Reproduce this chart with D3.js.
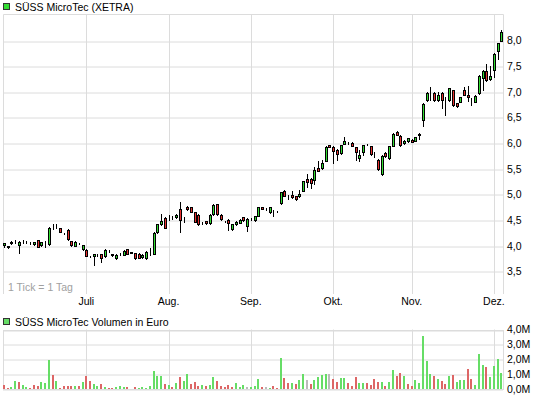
<!DOCTYPE html>
<html>
<head>
<meta charset="utf-8">
<script src="https://cdn.jsdelivr.net/npm/d3@7"></script>
<style>
body { margin: 0; background: #fff; }
text { font-family: "Liberation Sans", Arial, sans-serif; font-size: 10.5px; fill: #000; }
</style>
</head>
<body>
<svg width="545" height="398"></svg>
<script>
// daily candles, 1 Tick = 1 Tag (Juni - Anfang Dez.)
var open = [
  4.01,3.98,4.06,4.08,4.01,4.08,4.07,4.05,4.03,4.11,
  4.01,4.07,4.03,4.35,4.36,4.34,4.24,4.31,4.09,4.00,
  4.05,3.93,3.92,3.79,3.79,3.82,3.83,3.79,3.90,3.82,
  3.75,3.83,3.82,3.93,3.87,3.85,3.84,3.77,3.75,3.90,
  3.84,4.26,4.42,4.53,4.55,4.55,4.55,4.71,4.51,4.75,
  4.75,4.65,4.60,4.45,4.48,4.44,4.61,4.81,4.60,4.48,
  4.50,4.32,4.42,4.45,4.55,4.38,4.51,4.50,4.58,4.75,
  4.72,4.65,4.68,4.66,4.83,5.07,4.96,4.99,4.96,4.96,
  5.07,5.30,5.30,5.28,5.51,5.51,5.66,5.96,5.93,5.87,
  5.80,5.99,6.00,6.01,5.92,5.70,5.83,5.98,5.94,5.81,
  5.67,5.39,5.81,5.70,5.95,6.22,6.14,6.00,6.04,6.06,
  6.05,6.16,6.45,6.84,7.00,6.98,6.84,6.98,6.87,6.84,
  7.03,6.78,6.81,7.03,6.94,6.86,6.81,6.97,7.26,7.41,
  7.24,7.42,7.80,8.00];
var high = [
  4.06,4.00,4.10,4.12,4.10,4.12,4.09,4.07,4.08,4.12,
  4.08,4.09,4.36,4.42,4.42,4.35,4.25,4.32,4.10,4.09,
  4.06,4.02,3.93,3.80,3.84,3.83,3.84,3.93,3.92,3.84,
  3.83,3.85,3.91,3.94,3.88,3.86,3.85,3.83,3.89,3.95,
  4.26,4.43,4.61,4.55,4.59,4.58,4.61,4.85,4.55,4.77,
  4.76,4.66,4.61,4.47,4.49,4.61,4.81,4.82,4.61,4.49,
  4.51,4.43,4.48,4.51,4.56,4.53,4.53,4.58,4.76,4.76,
  4.74,4.76,4.70,4.67,5.05,5.08,4.99,5.07,4.97,5.09,
  5.27,5.40,5.31,5.54,5.66,5.67,5.94,5.97,5.94,5.88,
  5.97,6.12,6.02,6.02,5.93,5.87,5.97,5.99,5.95,5.82,
  5.68,5.76,5.82,5.95,6.20,6.24,6.15,6.06,6.10,6.07,
  6.12,6.19,6.78,6.99,7.10,6.99,7.00,6.99,6.89,7.08,
  7.04,6.79,6.90,7.10,7.12,6.87,6.93,7.32,7.42,7.55,
  7.50,7.75,7.96,8.20];
var low = [
  3.98,3.96,4.03,4.05,3.85,4.06,4.05,4.04,4.02,3.97,
  4.00,3.97,4.02,4.33,4.35,4.26,4.23,4.12,4.00,3.99,
  4.03,3.91,3.79,3.78,3.62,3.80,3.69,3.78,3.87,3.80,
  3.74,3.81,3.81,3.83,3.85,3.74,3.76,3.76,3.74,3.82,
  3.83,4.25,4.41,4.34,4.50,4.52,4.54,4.27,4.46,4.70,
  4.65,4.46,4.41,4.43,4.43,4.43,4.60,4.60,4.50,4.47,
  4.31,4.31,4.41,4.44,4.49,4.29,4.50,4.49,4.57,4.71,
  4.70,4.64,4.58,4.65,4.82,4.96,4.91,4.93,4.89,4.95,
  5.06,5.15,5.12,5.21,5.45,5.50,5.65,5.92,5.61,5.67,
  5.79,5.98,5.99,5.94,5.67,5.66,5.77,5.97,5.77,5.73,
  5.48,5.38,5.73,5.69,5.94,6.15,5.95,5.99,6.03,6.02,
  6.04,6.08,6.33,6.83,6.84,6.83,6.83,6.68,6.55,6.83,
  6.73,6.71,6.80,6.93,6.83,6.74,6.80,6.96,7.04,7.22,
  7.23,7.29,7.63,7.99];
var close = [
  4.05,3.99,4.07,4.08,4.08,4.08,4.07,4.05,4.07,3.98,
  4.07,4.08,4.35,4.35,4.37,4.27,4.24,4.13,4.01,4.08,
  4.05,4.01,3.79,3.79,3.83,3.82,3.75,3.92,3.90,3.83,
  3.82,3.83,3.90,3.84,3.86,3.75,3.76,3.82,3.88,3.90,
  4.25,4.42,4.48,4.35,4.55,4.55,4.60,4.50,4.51,4.71,
  4.66,4.47,4.42,4.45,4.44,4.60,4.80,4.61,4.51,4.48,
  4.45,4.42,4.47,4.50,4.50,4.52,4.51,4.57,4.75,4.72,
  4.72,4.75,4.68,4.66,5.04,4.97,4.96,4.94,4.90,5.01,
  5.26,5.24,5.23,5.48,5.46,5.62,5.93,5.93,5.85,5.78,
  5.96,6.04,6.01,5.95,5.83,5.77,5.96,5.98,5.78,5.81,
  5.49,5.75,5.74,5.94,6.18,6.16,5.96,6.05,6.09,6.03,
  6.11,6.17,6.77,6.98,7.00,6.84,6.94,6.84,6.87,7.07,
  6.74,6.72,6.89,6.94,6.89,6.86,6.92,7.31,7.41,7.23,
  7.31,7.74,7.95,8.17];

// Volumen in Mio. Euro, direction: 1 up, -1 down, 0 unchanged
var volume = [
  .27,.09,.16,.54,.47,.27,.16,.09,.27,.20,
  .47,.40,1.95,.94,.54,.09,.20,.20,.20,.20,
  .20,.47,.88,.54,.34,.20,.34,.13,.07,.07,
  .13,.20,.13,.13,0,.13,.07,.13,.07,.20,
  1.21,.88,.88,.34,.27,.13,.40,.81,.54,1.01,
  .34,.47,.20,.27,.20,.27,.81,.54,.20,.13,
  .27,.13,.40,.13,.27,.13,.13,.20,.67,.13,
  .13,.07,.20,.07,2.09,.74,.40,.40,.34,.61,
  1.01,.61,.34,.61,.81,.94,1.01,1.01,.66,.46,
  .72,.72,.43,.18,.80,.40,.40,.40,.30,.65,
  .50,.48,.18,.48,1.27,.87,1.07,.87,.33,.20,
  .62,.40,3.56,1.87,1.00,.87,.70,.55,.35,.87,
  .95,.50,.62,.62,1.35,.70,.28,2.36,1.62,1.50,
  .80,1.56,2.02,1.07];
var volDir = [
  -1,-1,1,1,-1,1,1,-1,-1,-1,
  1,1,1,-1,1,-1,-1,-1,-1,1,
  -1,1,-1,-1,1,1,-1,1,-1,-1,
  1,1,1,-1,-1,-1,1,1,1,1,
  1,1,1,-1,1,-1,1,-1,1,1,
  -1,-1,-1,1,-1,1,1,-1,-1,-1,
  -1,-1,1,1,1,0,1,1,1,-1,
  0,1,-1,-1,1,-1,-1,1,-1,1,
  1,0,-1,1,1,1,1,0,-1,-1,
  1,1,-1,-1,-1,1,1,-1,-1,-1,
  -1,1,-1,1,1,-1,-1,1,-1,-1,
  1,1,1,1,1,-1,1,-1,-1,1,
  -1,1,1,1,-1,-1,1,1,1,-1,
  1,1,1,1];

var monthIdx = [22, 44, 66, 88, 109, 131];
var monthLabels = ["Juli", "Aug.", "Sep.", "Okt.", "Nov.", "Dez."];
var priceTicks = [3.5, 4.0, 4.5, 5.0, 5.5, 6.0, 6.5, 7.0, 7.5, 8.0];
var volTicks = [0, 1, 2, 3, 4];

var svg = d3.select("svg");
var left = 3, right = 503;
var pTop = 14, pBottom = 294;
var vTop = 329.5, vBottom = 389;
var grid = "#dcdcdc";

var x = d3.scaleLinear().domain([0, open.length - 1]).range([4, 501.4]);
var y = d3.scaleLinear().domain([3.5, 8]).range([271.3, 40.5]);
var yv = d3.scaleLinear().domain([0, 4]).range([vBottom, vTop]);

var comma = function(d) { return d3.format(".1f")(d).replace(".", ","); };
var px = function(v) { return Math.round(v) + 0.5; };

// ---- price panel (frame open at the bottom)
svg.append("path")
    .attr("d", "M" + (left + 0.5) + "," + pBottom + "V" + (pTop + 0.5) + "H" + (right + 0.5) + "V" + pBottom)
    .attr("fill", "none").attr("stroke", grid);

var pAxis = svg.append("g")
    .attr("transform", "translate(" + right + ",0)")
    .call(d3.axisRight(y).tickValues(priceTicks).tickSize(-(right - left)).tickPadding(4).tickFormat(comma));
pAxis.select(".domain").remove();
pAxis.selectAll("line").attr("stroke", grid).attr("transform", function(d) { return "translate(0," + (px(y(d)) - y(d)) + ")"; });
pAxis.selectAll("text").attr("fill", "#000").style("font-size", "10.5px").attr("font-family", null);

svg.append("g").selectAll("line")
    .data(monthIdx).enter().append("line")
    .attr("x1", function(d) { return px(x(d)); })
    .attr("x2", function(d) { return px(x(d)); })
    .attr("y1", pTop).attr("y2", pBottom)
    .attr("stroke", grid);

svg.append("g").selectAll("text")
    .data(monthIdx).enter().append("text")
    .attr("x", function(d) { return x(d); })
    .attr("y", 305)
    .attr("text-anchor", "middle")
    .text(function(d, i) { return monthLabels[i]; });

svg.append("text").attr("x", 8).attr("y", 291).style("fill", "#a0a0a0").text("1 Tick = 1 Tag");

// candles
var days = d3.range(open.length);
var candles = svg.append("g");
candles.selectAll("line")
    .data(days).enter().append("line")
    .attr("x1", function(i) { return px(x(i)); })
    .attr("x2", function(i) { return px(x(i)); })
    .attr("y1", function(i) { return Math.round(y(high[i])); })
    .attr("y2", function(i) { return Math.round(y(low[i])) + 1; })
    .attr("stroke", "#000");
candles.selectAll("rect")
    .data(days).enter().append("rect")
    .attr("x", function(i) { return Math.round(x(i)) - 1 + 0.5; })
    .attr("width", 2)
    .attr("y", function(i) { return px(y(Math.max(open[i], close[i]))); })
    .attr("height", function(i) { return Math.max(0, Math.round(y(Math.min(open[i], close[i]))) - Math.round(y(Math.max(open[i], close[i])))); })
    .attr("fill", function(i) { return close[i] >= open[i] ? "#33dd33" : "#e83030"; })
    .attr("stroke", "#000");

// legends
svg.append("rect").attr("x", 3.5).attr("y", 3.5).attr("width", 6).attr("height", 6)
    .attr("fill", "#33dd33").attr("stroke", "#333");
svg.append("text").attr("x", 15).attr("y", 11).text("SÜSS MicroTec (XETRA)");

svg.append("rect").attr("x", 3.5).attr("y", 318.5).attr("width", 6).attr("height", 6)
    .attr("fill", "#66dd66").attr("stroke", "#333");
svg.append("text").attr("x", 15).attr("y", 326).text("SÜSS MicroTec Volumen in Euro");

// ---- volume panel
svg.append("rect")
    .attr("x", left + 0.5).attr("y", px(vTop))
    .attr("width", right - left).attr("height", Math.round(vBottom) - Math.round(vTop))
    .attr("fill", "none").attr("stroke", grid);

var vAxis = svg.append("g")
    .attr("transform", "translate(" + right + ",0)")
    .call(d3.axisRight(yv).tickValues(volTicks).tickSize(-(right - left)).tickPadding(4)
        .tickFormat(function(d) { return comma(d) + "M"; }));
vAxis.select(".domain").remove();
vAxis.selectAll("line").attr("stroke", grid).attr("transform", function(d) { return "translate(0," + (px(yv(d)) - yv(d)) + ")"; });
vAxis.selectAll("text").attr("fill", "#000").style("font-size", "10.5px").attr("font-family", null);

svg.append("g").selectAll("line")
    .data(monthIdx).enter().append("line")
    .attr("x1", function(d) { return px(x(d)); })
    .attr("x2", function(d) { return px(x(d)); })
    .attr("y1", vTop).attr("y2", vBottom)
    .attr("stroke", grid);

svg.append("g").selectAll("rect")
    .data(days).enter().append("rect")
    .attr("x", function(i) { return Math.round(x(i)) - 1; })
    .attr("width", 2)
    .attr("y", function(i) { return Math.round(yv(volume[i])); })
    .attr("height", function(i) { return Math.round(yv(0)) - Math.round(yv(volume[i])); })
    .attr("fill", function(i) { return volDir[i] > 0 ? "#66dd66" : (volDir[i] < 0 ? "#dd6666" : "#bbbbbb"); });
</script>
</body>
</html>
